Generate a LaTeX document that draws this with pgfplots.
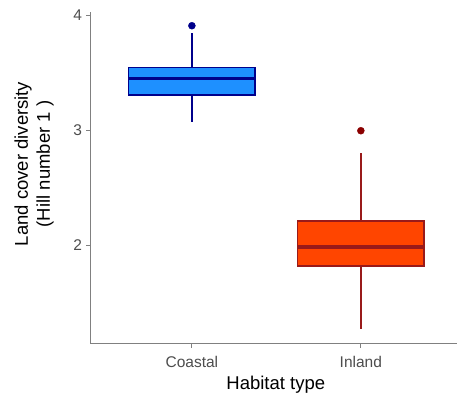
\documentclass[border=0pt]{standalone}
\usepackage{pgfplots}
\pgfplotsset{compat=1.18}
\usepgfplotslibrary{statistics}
\usepackage{fontspec}
\setmainfont{Liberation Sans}
\definecolor{tickgray}{HTML}{4D4D4D}
\definecolor{axgray}{HTML}{808080}
\definecolor{coastfill}{HTML}{1E90FF}
\definecolor{coastline}{HTML}{00008B}
\definecolor{inlandfill}{HTML}{FF4500}
\definecolor{inlandline}{HTML}{991A1A}
\definecolor{inlandpt}{HTML}{8B0000}
\begin{document}
\begin{tikzpicture}
\useasboundingbox (-90.5pt,-55.5pt) rectangle (366.5pt,343.5pt);
\begin{axis}[
  at={(0pt,0pt)}, anchor=south west,
  scale only axis, width=366.5pt, height=331.8pt,
  xmin=0.4, xmax=2.569, ymin=1.1435, ymax=4.029,
  axis lines*=left,
  axis line style={draw=axgray, line width=0.9pt},
  xtick={1,2}, xticklabels={Coastal,Inland},
  ytick={2,3,4}, yticklabels={2,3,4},
  tick align=outside, major tick length=4pt,
  tick style={draw=axgray, line width=0.9pt},
  ticklabel style={font=\fontsize{15.5}{18}\selectfont, text=tickgray},
  xticklabel style={anchor=base, yshift=-20pt},
  yticklabel style={anchor=east, xshift=-1pt},
  xlabel={Habitat type},
  xlabel style={at={(axis description cs:0.5055,-0.1251)}, anchor=center, font=\fontsize{18.5}{22}\selectfont},
  ylabel={Land cover diversity\\(Hill number 1 )},
  ylabel style={at={(axis description cs:-0.1542,0.541)}, anchor=center, align=center, font=\fontsize{18.5}{22}\selectfont},
  clip=false,
  boxplot/draw direction=y,
  boxplot/every box/.style={line width=1.6pt},
  boxplot/every whisker/.style={line width=1.5pt},
  boxplot/every median/.style={line width=3.5pt},
]
\addplot[boxplot prepared={draw position=1, lower whisker=3.070, lower quartile=3.307, median=3.449, upper quartile=3.542, upper whisker=3.843, box extend=0.75, whisker extend=0},
  draw=coastline, fill=coastfill, line width=1.6pt, mark=none] coordinates {};
\addplot[boxplot prepared={draw position=2, lower whisker=1.272, lower quartile=1.820, median=1.983, upper quartile=2.211, upper whisker=2.797, box extend=0.75, whisker extend=0},
  draw=inlandline, fill=inlandfill, line width=1.6pt, mark=none] coordinates {};
\addplot[only marks, mark=*, mark size=3.5pt, color=coastline] coordinates {(1,3.907)};
\addplot[only marks, mark=*, mark size=3.5pt, color=inlandpt] coordinates {(2,2.994)};
\end{axis}
\end{tikzpicture}
\end{document}
